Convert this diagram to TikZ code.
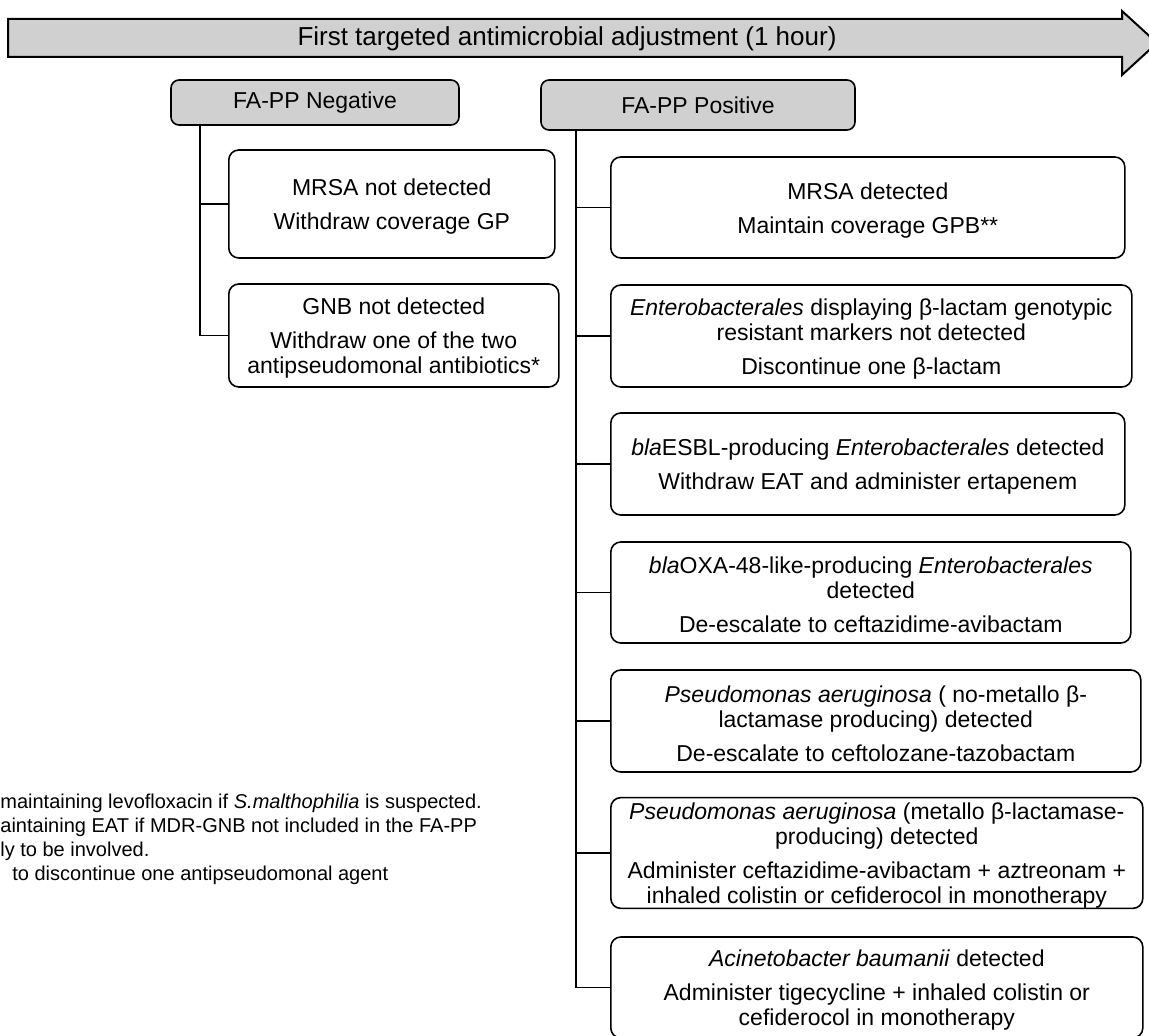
\documentclass[tikz,border=0pt]{standalone}
\usepackage{fontspec}
\setmainfont{Liberation Sans}
\definecolor{bargray}{HTML}{D0D0D0}
\tikzset{
	header/.style={draw, fill=bargray, rounded corners=4pt, line width=0.8pt, inner sep=0pt, font=\fontsize{11.5}{13}\selectfont},
	outcome/.style={draw, rounded corners=5pt, line width=0.8pt, align=center, anchor=west, inner sep=0pt, font=\fontsize{11.5}{12.5}\selectfont},
	branch/.style={line width=0.8pt},
	note/.style={anchor=base west, inner sep=0pt, font=\fontsize{10}{12}\selectfont}
}
\newcommand{\TopStrut}{\rule{0pt}{11pt}}
\begin{document}
\begin{tikzpicture}
	[x=0.5pt, y=-0.5pt]
	\useasboundingbox (0,0) rectangle (1149,1036);

	% timeline arrow
	\begin{scope}
		\draw[fill=bargray, line width=1pt] (8,19) -- (1122,19) -- (1122,11) -- (1157,43) -- (1122,75) -- (1122,57) -- (8,57) -- cycle;
		\node[font=\fontsize{13}{15}\selectfont] (timeline) at (567,39) {First targeted antimicrobial adjustment (1 hour)};
	\end{scope}

	% FA-PP result headers
	\begin{scope}
		\node[header, minimum width=144pt, minimum height=22.5pt] (neg) at (315,102.5) {FA-PP Negative};
		\node[header, minimum width=157pt, minimum height=25pt] (pos) at (698,105) {FA-PP Positive};
	\end{scope}

	\newcommand{\ParSkip}{4.5pt}

	% negative branch
	\begin{scope}
		\coordinate (negtrunk) at (200,125);
		\node[outcome, minimum width=163pt, minimum height=54pt] (negmrsa) at (228,204)
			{\TopStrut MRSA not detected\\[\ParSkip] Withdraw coverage GP};
		\node[outcome, minimum width=165pt, minimum height=51.5pt] (neggnb) at (228,335.5)
			{\TopStrut GNB not detected\\[\ParSkip] Withdraw one of the two\\ antipseudomonal antibiotics*};
		\foreach \b in {negmrsa, neggnb} {
			\draw[branch] (negtrunk) |- (\b.west);
		}
	\end{scope}

	% positive branch
	\begin{scope}
		\coordinate (postrunk) at (576,130);
		\node[outcome, minimum width=257pt, minimum height=50.5pt] (posmrsa) at (610,207.5)
			{\TopStrut MRSA detected\\[\ParSkip] Maintain coverage GPB**};
		\node[outcome, minimum width=260.5pt, minimum height=51pt] (posentero) at (610,336)
			{\TopStrut\textit{Enterobacterales} displaying β-lactam genotypic\\ resistant markers not detected\\[\ParSkip] Discontinue one β-lactam};
		\node[outcome, minimum width=257pt, minimum height=51pt] (posesbl) at (610,464)
			{\TopStrut\textit{bla}ESBL-producing \textit{Enterobacterales} detected\\[\ParSkip] Withdraw EAT and administer ertapenem};
		\node[outcome, minimum width=260pt, minimum height=50.5pt] (posoxa) at (610,592.5)
			{\TopStrut\textit{bla}OXA-48-like-producing \textit{Enterobacterales}\\ detected\\[\ParSkip] De-escalate to ceftazidime-avibactam};
		\node[outcome, minimum width=265pt, minimum height=51pt] (pospsa) at (610,721)
			{\TopStrut\textit{Pseudomonas aeruginosa} ( no-metallo β-\\ lactamase producing) detected\\[\ParSkip] De-escalate to ceftolozane-tazobactam};
		\node[outcome, minimum width=266pt, minimum height=55pt] (posmbl) at (610,853)
			{\TopStrut\textit{Pseudomonas aeruginosa} (metallo β-lactamase-\\ producing) detected\\[\ParSkip] Administer ceftazidime-avibactam + aztreonam +\\ inhaled colistin or cefiderocol in monotherapy};
		\node[outcome, minimum width=266pt, minimum height=50.5pt] (posacin) at (610,987.5)
			{\TopStrut\textit{Acinetobacter baumanii} detected\\[\ParSkip] Administer tigecycline + inhaled colistin or\\ cefiderocol in monotherapy};
		\foreach \b in {posmrsa, posentero, posesbl, posoxa, pospsa, posmbl, posacin} {
			\draw[branch] (postrunk) |- (\b.west);
		}
	\end{scope}

	% footnotes (cut at the left edge)
	\begin{scope}
		\foreach \i/\x/\y/\txt in {1/0/808/{maintaining levofloxacin if \textit{S.malthophilia} is suspected.},
			2/0/832/{aintaining EAT if MDR-GNB not included in the FA-PP},
			3/0/856/{ly to be involved.},
			4/12/880/{to discontinue one antipseudomonal agent}} {
			\node[note] (note\i) at (\x,\y) {\txt};
		}
	\end{scope}

\end{tikzpicture}
\end{document}
